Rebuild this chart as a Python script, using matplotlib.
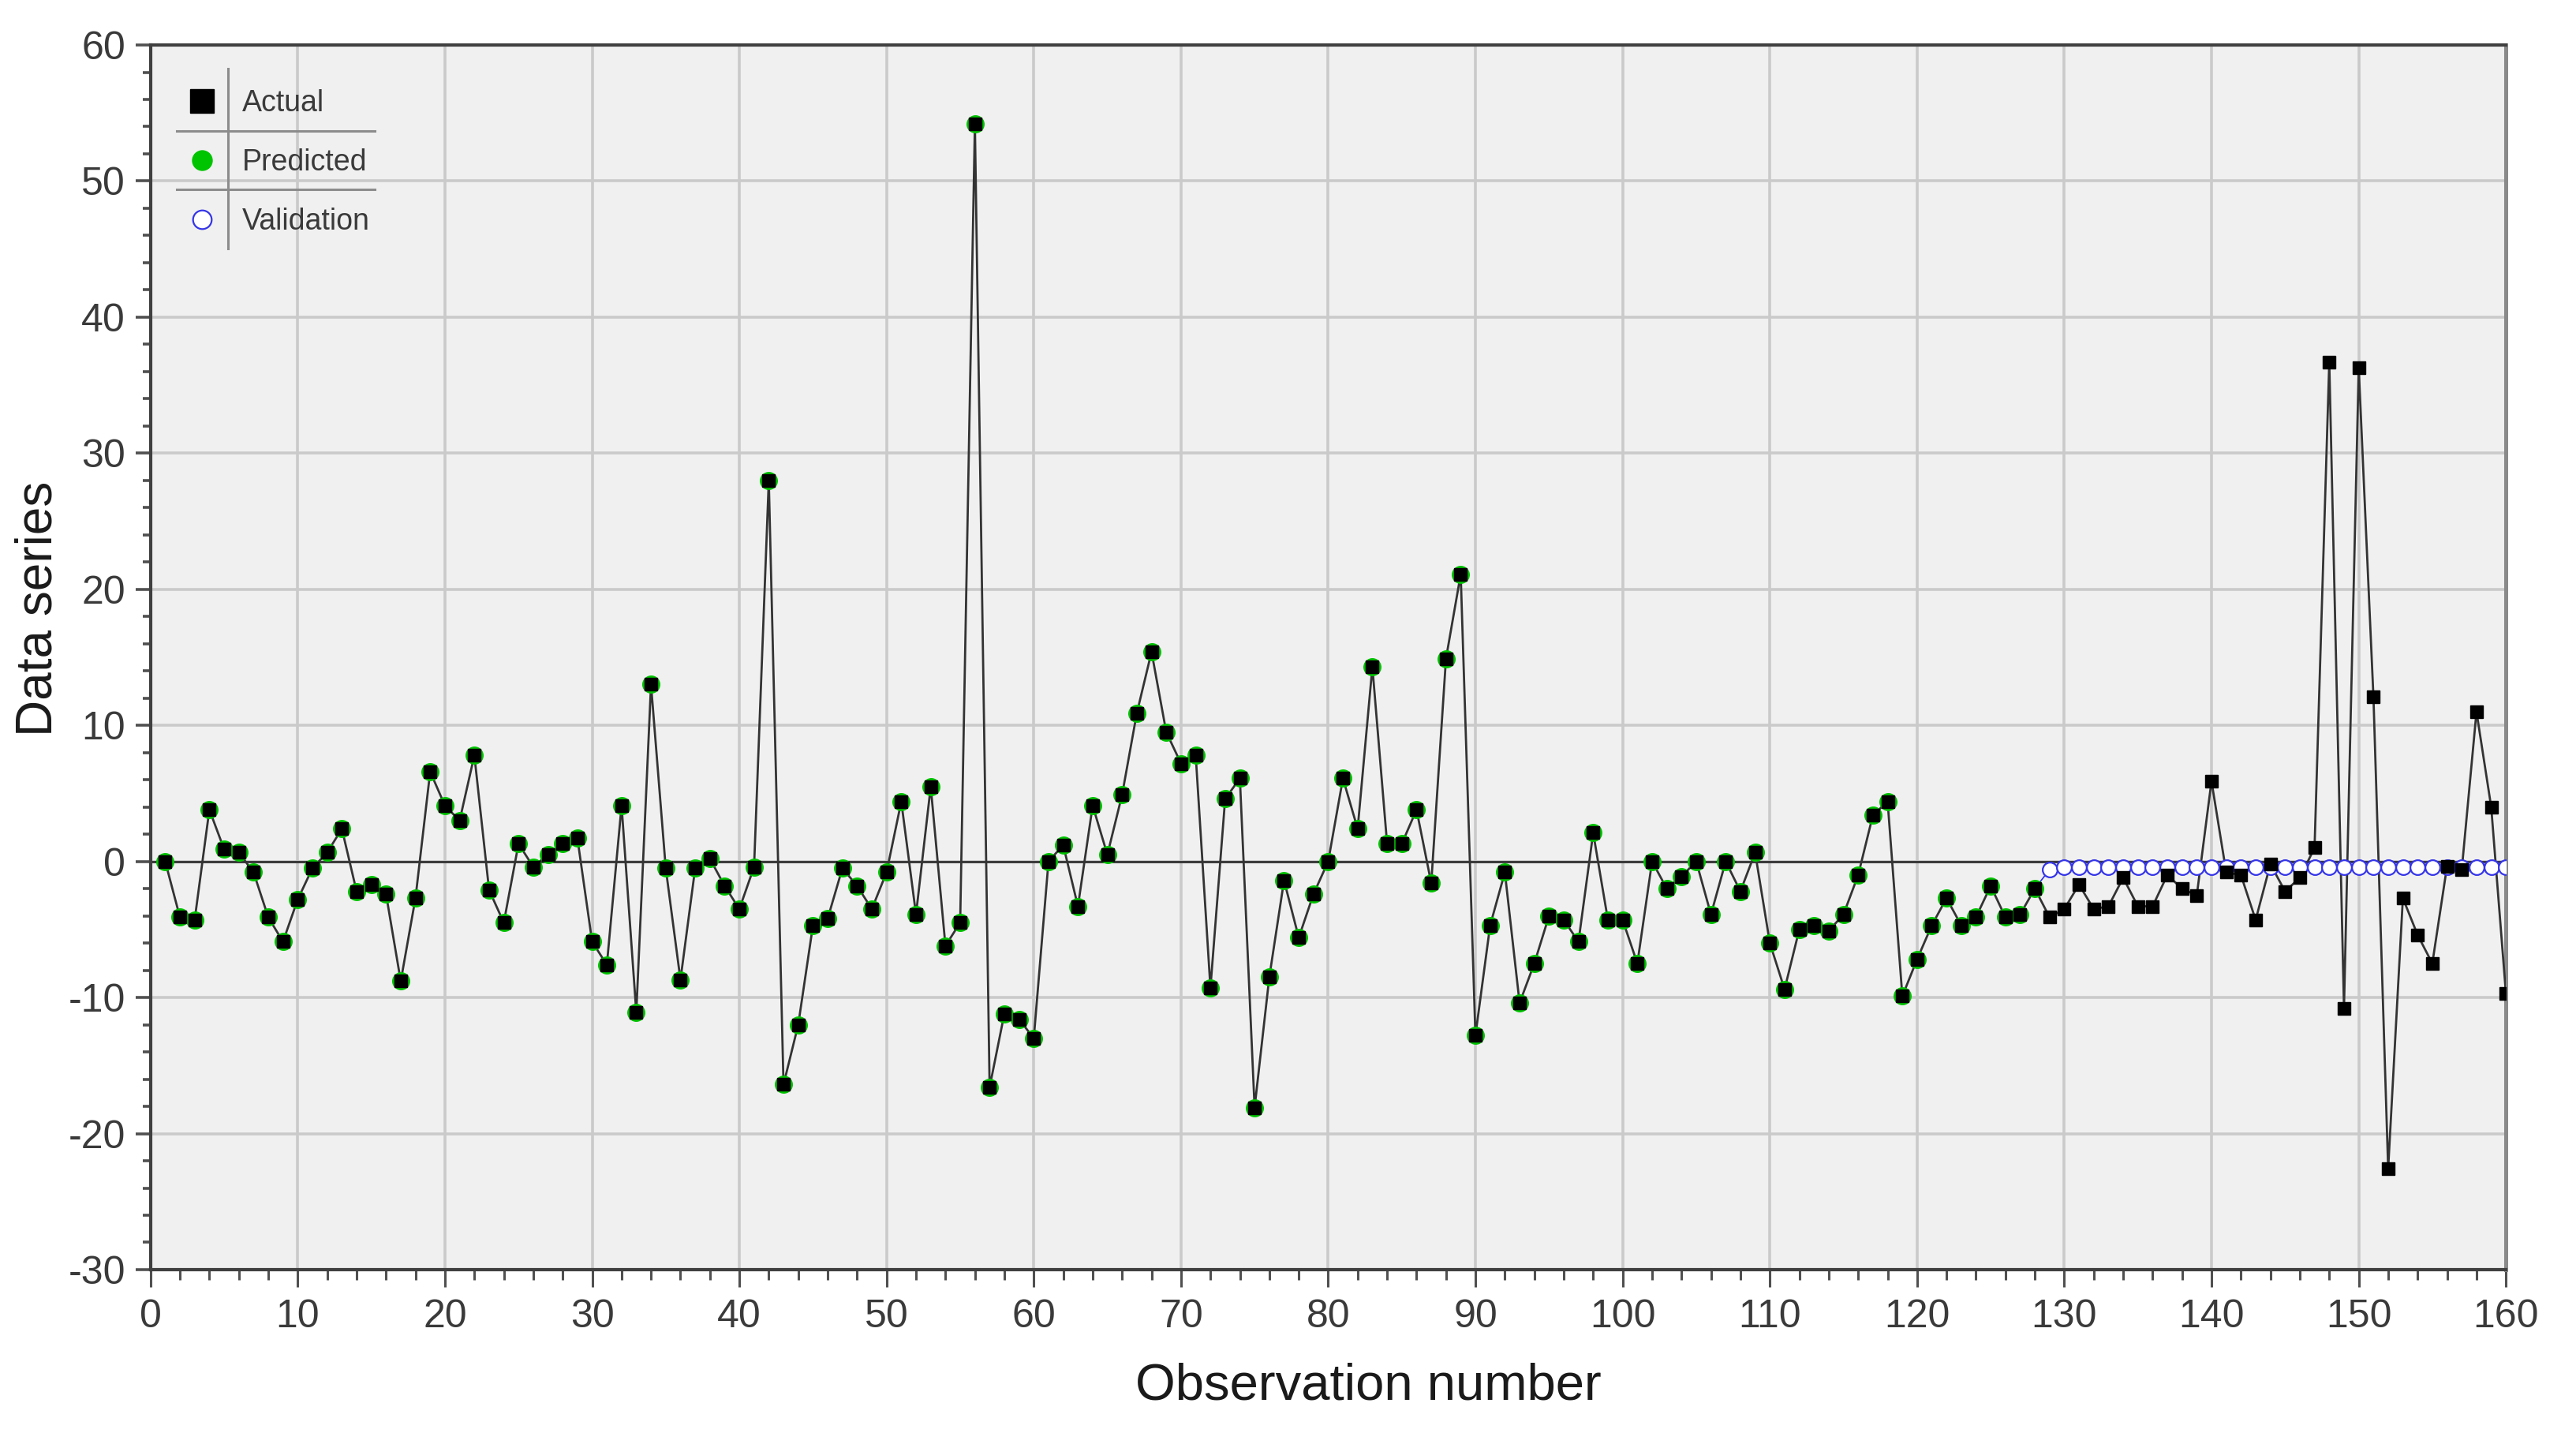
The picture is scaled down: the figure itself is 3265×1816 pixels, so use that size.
import matplotlib
matplotlib.use('Agg')
import matplotlib.pyplot as plt
from matplotlib.lines import Line2D
from matplotlib.ticker import MultipleLocator
from matplotlib import font_manager

# ---------------- data ----------------
actual_values = [
    0, -4.1, -4.3, 3.8, 0.9, 0.65, -0.8, -4.1, -5.9, -2.8,
    -0.5, 0.65, 2.4, -2.2, -1.7, -2.4, -8.8, -2.7, 6.6, 4.1,
    3.0, 7.8, -2.1, -4.5, 1.3, -0.4, 0.5, 1.3, 1.7, -5.9,
    -7.6, 4.1, -11.1, 13.0, -0.5, -8.7, -0.5, 0.2, -1.8, -3.5,
    -0.4, 28.0, -16.4, -12.0, -4.7, -4.2, -0.5, -1.8, -3.5, -0.8,
    4.4, -3.9, 5.5, -6.2, -4.5, 54.2, -16.6, -11.2, -11.6, -13.0,
    0, 1.2, -3.3, 4.1, 0.5, 4.9, 10.9, 15.4, 9.5, 7.2,
    7.8, -9.3, 4.6, 6.1, -18.1, -8.5, -1.4, -5.6, -2.4, 0,
    6.1, 2.4, 14.3, 1.3, 1.3, 3.8, -1.6, 14.9, 21.1, -12.8,
    -4.7, -0.8, -10.4, -7.5, -4.0, -4.3, -5.9, 2.1, -4.3, -4.3,
    -7.5, 0, -2.0, -1.1, 0, -3.9, 0, -2.2, 0.65, -6.0,
    -9.4, -5.0, -4.7, -5.1, -3.9, -1.0, 3.4, 4.4, -9.9, -7.2,
    -4.7, -2.7, -4.7, -4.1, -1.8, -4.1, -3.9, -2.0, -4.1, -3.5,
    -1.7, -3.5, -3.3, -1.2, -3.3, -3.3, -1.0, -2.0, -2.5, 5.9,
    -0.8, -1.0, -4.3, -0.2, -2.2, -1.2, 1.0, 36.7, -10.8, 36.3,
    12.1, -22.6, -2.7, -5.4, -7.5, -0.35, -0.6, 11.0, 4.0, -9.7,
]
actual_obs = list(range(1, 161))

predicted_values = [
    0, -4.1, -4.3, 3.8, 0.9, 0.65, -0.8, -4.1, -5.9, -2.8,
    -0.5, 0.65, 2.4, -2.2, -1.7, -2.4, -8.8, -2.7, 6.6, 4.1,
    3.0, 7.8, -2.1, -4.5, 1.3, -0.4, 0.5, 1.3, 1.7, -5.9,
    -7.6, 4.1, -11.1, 13.0, -0.5, -8.7, -0.5, 0.2, -1.8, -3.5,
    -0.4, 28.0, -16.4, -12.0, -4.7, -4.2, -0.5, -1.8, -3.5, -0.8,
    4.4, -3.9, 5.5, -6.2, -4.5, 54.2, -16.6, -11.2, -11.6, -13.0,
    0, 1.2, -3.3, 4.1, 0.5, 4.9, 10.9, 15.4, 9.5, 7.2,
    7.8, -9.3, 4.6, 6.1, -18.1, -8.5, -1.4, -5.6, -2.4, 0,
    6.1, 2.4, 14.3, 1.3, 1.3, 3.8, -1.6, 14.9, 21.1, -12.8,
    -4.7, -0.8, -10.4, -7.5, -4.0, -4.3, -5.9, 2.1, -4.3, -4.3,
    -7.5, 0, -2.0, -1.1, 0, -3.9, 0, -2.2, 0.65, -6.0,
    -9.4, -5.0, -4.7, -5.1, -3.9, -1.0, 3.4, 4.4, -9.9, -7.2,
    -4.7, -2.7, -4.7, -4.1, -1.8, -4.1, -3.9, -2.0,
]
predicted_obs = list(range(1, 129))

validation_values = [
    -0.6, -0.45, -0.45, -0.45, -0.45, -0.45, -0.45, -0.45, -0.45, -0.45,
    -0.45, -0.45, -0.45, -0.45, -0.45, -0.45, -0.45, -0.45, -0.45, -0.45,
    -0.45, -0.45, -0.45, -0.45, -0.45, -0.45, -0.45, -0.45, -0.45, -0.45,
    -0.45, -0.45,
]
validation_obs = list(range(129, 161))

x_ticks = list(range(0, 161, 10))
y_ticks = list(range(-30, 61, 10))
series_labels = ['Actual', 'Predicted', 'Validation']
x_label = 'Observation number'
y_label = 'Data series'

# ---------------- fonts ----------------
installed = {f.name for f in font_manager.fontManager.ttflist}
NARROW = [f for f in ['Liberation Sans Narrow', 'Liberation Sans', 'DejaVu Sans'] if f in installed]
REGULAR = [f for f in ['Liberation Sans', 'DejaVu Sans'] if f in installed]
plt.rcParams['font.family'] = NARROW
plt.rcParams['axes.unicode_minus'] = False

# ---------------- figure ----------------
fig = plt.figure(figsize=(32.66, 18.16), dpi=100)
fig.patch.set_facecolor('white')
ax = fig.add_axes([0.0584, 0.114, 0.9141, 0.8546])
ax.set_facecolor('#f0f0f0')
ax.set_xlim(x_ticks[0], x_ticks[-1])
ax.set_ylim(y_ticks[0], y_ticks[-1])

ax.set_xticks(x_ticks)
ax.set_yticks(y_ticks)
ax.xaxis.set_minor_locator(MultipleLocator(2))
ax.yaxis.set_minor_locator(MultipleLocator(2))
ax.grid(True, which='major', color='#cacaca', linewidth=2.6, zorder=0)
ax.set_axisbelow(True)

ax.tick_params(axis='x', which='major', length=16, width=2.2, color='#505050',
               pad=11, labelsize=36, labelcolor='#3a3a3a')
ax.tick_params(axis='x', which='minor', length=9, width=2.2, color='#505050')
ax.tick_params(axis='y', which='major', length=14, width=2.6, color='#505050',
               pad=9, labelsize=36, labelcolor='#3a3a3a')
ax.tick_params(axis='y', which='minor', length=7, width=2.6, color='#505050')

for side in ['left', 'bottom', 'top']:
    ax.spines[side].set_color('#404040')
    ax.spines[side].set_linewidth(3.0)
ax.spines['right'].set_color('#8a8a8a')
ax.spines['right'].set_linewidth(3.6)

# zero line
ax.axhline(0, color='#3c3c3c', linewidth=2.2, zorder=2)

# actual connecting line
ax.plot(actual_obs, actual_values, color='#333333', linewidth=2.0, zorder=3)

# validation line (bridged from the last predicted point) and circles
val_x = [predicted_obs[-1]] + validation_obs
val_y = [predicted_values[-1]] + validation_values
ax.plot(val_x, val_y, color='#3030e0', linewidth=1.2, marker='o', markersize=13.5,
        markerfacecolor='white', markeredgecolor='#3535e8', markeredgewidth=1.6,
        markevery=list(range(1, len(val_x))), zorder=4)

# predicted markers
ax.plot(predicted_obs, predicted_values, linestyle='none', marker='o', markersize=15.5,
        markerfacecolor='#00c400', markeredgecolor='#00c400', zorder=5)

# actual markers
ax.plot(actual_obs, actual_values, linestyle='none', marker='s', markersize=12,
        markerfacecolor='black', markeredgecolor='black', zorder=6)

# labels
ax.set_xlabel(x_label, fontsize=47, color='#1a1a1a')
ax.xaxis.set_label_coords(0.517, -0.095)
ax.xaxis.label.set_verticalalignment('center')
ax.set_ylabel(y_label, fontsize=46, color='#1a1a1a', family=REGULAR)
ax.yaxis.set_label_coords(-0.0475, 0.54)
ax.yaxis.label.set_verticalalignment('center')

# legend
handles = [
    Line2D([], [], linestyle='none', marker='s', markersize=21,
           markerfacecolor='black', markeredgecolor='black'),
    Line2D([], [], linestyle='none', marker='o', markersize=18,
           markerfacecolor='#00c400', markeredgecolor='#00c400'),
    Line2D([], [], linestyle='none', marker='o', markersize=17,
           markerfacecolor='white', markeredgecolor='#3535e8', markeredgewidth=1.6),
]
leg = ax.legend(handles, series_labels, loc='upper left', bbox_to_anchor=(0.0149, 0.964),
                frameon=False, fontsize=27, handlelength=1.1, handletextpad=0.8,
                labelspacing=1.04, borderpad=0, borderaxespad=0)
for t in leg.get_texts():
    t.set_color('#3a3a3a')

# legend separators (decoration)
sep_kw = dict(color='#8c8c8c', linewidth=2.2, transform=ax.transAxes, zorder=7, clip_on=False)
ax.plot([0.033, 0.033], [0.834, 0.981], **sep_kw)
ax.plot([0.0112, 0.0953], [0.930, 0.930], **sep_kw)
ax.plot([0.0112, 0.0953], [0.882, 0.882], **sep_kw)

fig.savefig('out.png', dpi=100, facecolor='white')
